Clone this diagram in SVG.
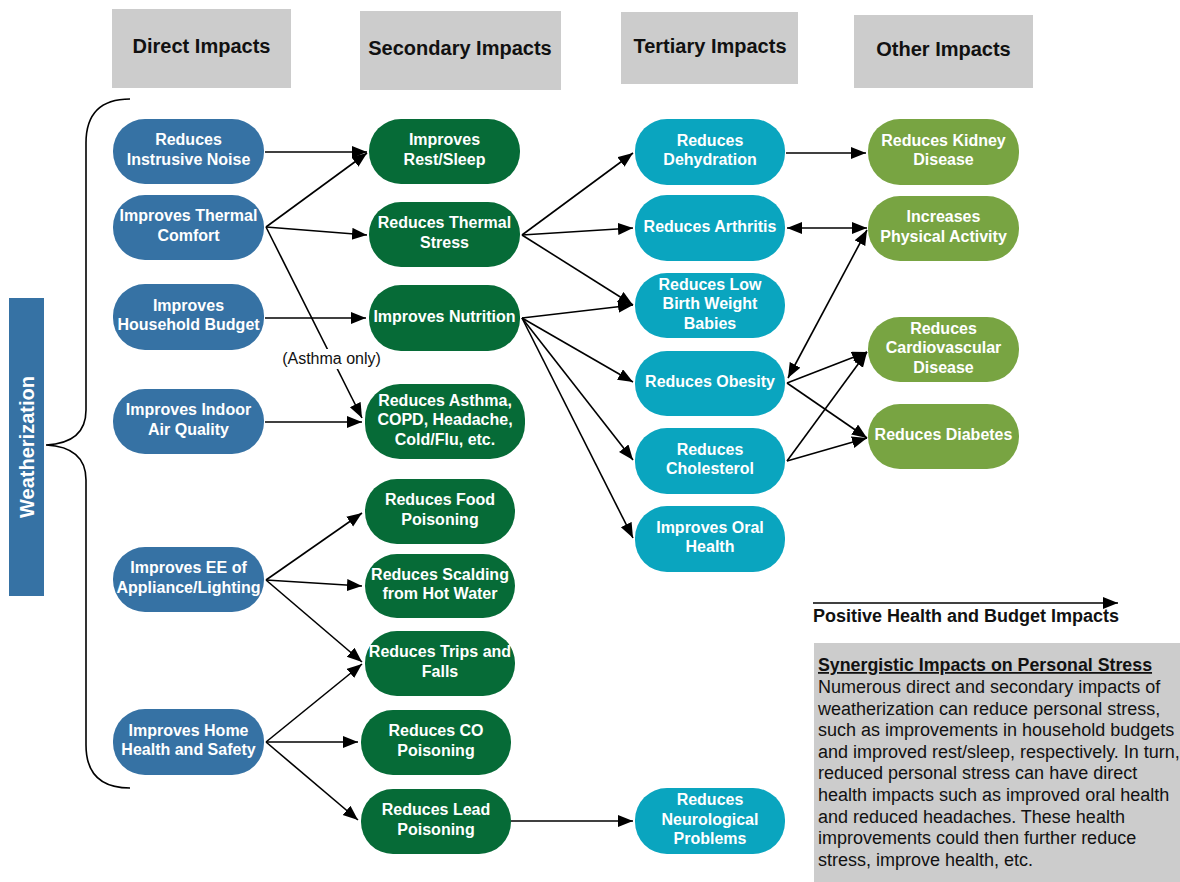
<svg xmlns="http://www.w3.org/2000/svg" width="1180" height="882" viewBox="0 0 1180 882">
<defs>
<marker id="ah" markerUnits="userSpaceOnUse" markerWidth="16" markerHeight="13" refX="15" refY="6" orient="auto-start-reverse">
<path d="M0,0 L15,6 L0,12 z" fill="#000"/>
</marker>
<style>
.hdr{fill:#cccccc}
.ht{font-family:"Liberation Sans",Arial,sans-serif;font-weight:bold;font-size:20px;fill:#111;text-anchor:middle}
.nt{font-family:"Liberation Sans",Arial,sans-serif;font-weight:bold;font-size:16px;fill:#fff;text-anchor:middle}
.blue{fill:#3672a4}
.green{fill:#066b37}
.teal{fill:#0aa5bf}
.olive{fill:#78a442}
.cn{stroke:#000;stroke-width:1.6;fill:none;marker-end:url(#ah)}
.cn2{stroke:#000;stroke-width:1.6;fill:none;marker-end:url(#ah);marker-start:url(#ah)}
.lbl{font-family:"Liberation Sans",Arial,sans-serif;font-size:16px;fill:#111;text-anchor:middle}
.body{font-family:"Liberation Sans",Arial,sans-serif;font-size:18px;fill:#111}
</style>
</defs>
<rect width="1180" height="882" fill="#fff"/>

<g id="headers">
<rect class="hdr" x="112" y="9" width="179" height="79"/>
<text class="ht" x="201.5" y="53">Direct Impacts</text>
<rect class="hdr" x="360" y="11" width="201" height="79"/>
<text class="ht" x="460" y="55">Secondary Impacts</text>
<rect class="hdr" x="621" y="12" width="177" height="72"/>
<text class="ht" x="710" y="53">Tertiary Impacts</text>
<rect class="hdr" x="854" y="15" width="179" height="73"/>
<text class="ht" x="943.5" y="56">Other Impacts</text>
</g>

<g id="weatherization">
<rect x="9" y="298" width="35" height="298" fill="#3672a4"/>
<text transform="translate(33.5,447) rotate(-90)" x="0" y="0" text-anchor="middle" font-family="Liberation Sans, Arial, sans-serif" font-weight="bold" font-size="20" fill="#fff">Weatherization</text>
</g>

<g id="brace">
<path d="M130,99 Q86,99 86,143 L86,410 Q86,443 46,445 Q86,447 86,480 L86,745 Q86,788 130,788" fill="none" stroke="#000" stroke-width="1.6"/>
</g>

<g id="connectors">
<line class="cn" x1="265" y1="152" x2="367" y2="152"/>
<line class="cn" x1="266" y1="227" x2="367" y2="153"/>
<line class="cn" x1="266" y1="227" x2="367" y2="235"/>
<line class="cn" x1="266" y1="227" x2="362" y2="418"/>
<line class="cn" x1="265" y1="318" x2="366" y2="318"/>
<line class="cn" x1="265" y1="422" x2="362" y2="422"/>
<line class="cn" x1="266" y1="580" x2="362" y2="513"/>
<line class="cn" x1="266" y1="580" x2="362" y2="586"/>
<line class="cn" x1="266" y1="580" x2="362" y2="662"/>
<line class="cn" x1="266" y1="742" x2="362" y2="664"/>
<line class="cn" x1="266" y1="742" x2="358" y2="742"/>
<line class="cn" x1="266" y1="742" x2="358" y2="820"/>
<line class="cn" x1="511" y1="821" x2="633" y2="821"/>
<line class="cn" x1="522" y1="235" x2="633" y2="153"/>
<line class="cn" x1="522" y1="235" x2="633" y2="228"/>
<line class="cn" x1="522" y1="235" x2="633" y2="305"/>
<line class="cn" x1="522" y1="318" x2="633" y2="305"/>
<line class="cn" x1="522" y1="318" x2="633" y2="382"/>
<line class="cn" x1="522" y1="318" x2="633" y2="460"/>
<line class="cn" x1="522" y1="318" x2="633" y2="538"/>
<line class="cn" x1="786" y1="153" x2="866" y2="153"/>
<line class="cn2" x1="787" y1="228" x2="867" y2="228"/>
<line class="cn2" x1="788" y1="378" x2="867" y2="230"/>
<line class="cn" x1="787" y1="383" x2="867" y2="352"/>
<line class="cn" x1="787" y1="383" x2="867" y2="438"/>
<line class="cn" x1="787" y1="461" x2="867" y2="352"/>
<line class="cn" x1="787" y1="461" x2="867" y2="438"/>
<rect x="281" y="349" width="101" height="20" fill="#fff"/>
<text class="lbl" x="331.5" y="364">(Asthma only)</text>
</g>

<g id="n-noise"><rect class="blue" x="113" y="119" width="151" height="65" rx="32"/><text class="nt" x="188.5" y="145">Reduces</text><text class="nt" x="188.5" y="164.5">Instrusive Noise</text></g>
<g id="n-thermal-comfort"><rect class="blue" x="113" y="195" width="151" height="65" rx="32"/><text class="nt" x="188.5" y="221">Improves Thermal</text><text class="nt" x="188.5" y="240.5">Comfort</text></g>
<g id="n-budget"><rect class="blue" x="113" y="284" width="151" height="66" rx="32"/><text class="nt" x="188.5" y="310.5">Improves</text><text class="nt" x="188.5" y="330">Household Budget</text></g>
<g id="n-air"><rect class="blue" x="113" y="389" width="151" height="65" rx="32"/><text class="nt" x="188.5" y="415">Improves Indoor</text><text class="nt" x="188.5" y="434.5">Air Quality</text></g>
<g id="n-ee"><rect class="blue" x="113" y="547" width="151" height="65" rx="32"/><text class="nt" x="188.5" y="573">Improves EE of</text><text class="nt" x="188.5" y="592.5">Appliance/Lighting</text></g>
<g id="n-home"><rect class="blue" x="113" y="709" width="151" height="66" rx="32"/><text class="nt" x="188.5" y="735.5">Improves Home</text><text class="nt" x="188.5" y="755">Health and Safety</text></g>

<g id="n-rest"><rect class="green" x="369" y="119" width="151" height="65" rx="32"/><text class="nt" x="444.5" y="145">Improves</text><text class="nt" x="444.5" y="164.5">Rest/Sleep</text></g>
<g id="n-thermal-stress"><rect class="green" x="369" y="202" width="151" height="65" rx="32"/><text class="nt" x="444.5" y="228">Reduces Thermal</text><text class="nt" x="444.5" y="247.5">Stress</text></g>
<g id="n-nutrition"><rect class="green" x="369" y="285" width="151" height="66" rx="32"/><text class="nt" x="444.5" y="321.5">Improves Nutrition</text></g>
<g id="n-asthma"><rect class="green" x="365" y="384" width="160" height="75" rx="35"/><text class="nt" x="445" y="405.5">Reduces Asthma,</text><text class="nt" x="445" y="425">COPD, Headache,</text><text class="nt" x="445" y="444.5">Cold/Flu, etc.</text></g>
<g id="n-food"><rect class="green" x="365" y="479" width="150" height="65" rx="32"/><text class="nt" x="440" y="505">Reduces Food</text><text class="nt" x="440" y="524.5">Poisoning</text></g>
<g id="n-scalding"><rect class="green" x="365" y="554" width="150" height="64" rx="32"/><text class="nt" x="440" y="579.5">Reduces Scalding</text><text class="nt" x="440" y="599">from Hot Water</text></g>
<g id="n-trips"><rect class="green" x="365" y="631" width="150" height="65" rx="32"/><text class="nt" x="440" y="657">Reduces Trips and</text><text class="nt" x="440" y="676.5">Falls</text></g>
<g id="n-co"><rect class="green" x="361" y="710" width="150" height="65" rx="32"/><text class="nt" x="436" y="736">Reduces CO</text><text class="nt" x="436" y="755.5">Poisoning</text></g>
<g id="n-lead"><rect class="green" x="361" y="789" width="150" height="65" rx="32"/><text class="nt" x="436" y="815">Reduces Lead</text><text class="nt" x="436" y="834.5">Poisoning</text></g>

<g id="n-dehydration"><rect class="teal" x="635" y="119" width="150" height="66" rx="32"/><text class="nt" x="710" y="145.5">Reduces</text><text class="nt" x="710" y="165">Dehydration</text></g>
<g id="n-arthritis"><rect class="teal" x="635" y="195" width="150" height="66" rx="32"/><text class="nt" x="710" y="231.5">Reduces Arthritis</text></g>
<g id="n-lbw"><rect class="teal" x="635" y="273" width="150" height="65" rx="32"/><text class="nt" x="710" y="289.5">Reduces Low</text><text class="nt" x="710" y="309">Birth Weight</text><text class="nt" x="710" y="328.5">Babies</text></g>
<g id="n-obesity"><rect class="teal" x="635" y="351" width="150" height="65" rx="32"/><text class="nt" x="710" y="387">Reduces Obesity</text></g>
<g id="n-cholesterol"><rect class="teal" x="635" y="428" width="150" height="66" rx="32"/><text class="nt" x="710" y="454.5">Reduces</text><text class="nt" x="710" y="474">Cholesterol</text></g>
<g id="n-oral"><rect class="teal" x="635" y="506" width="150" height="66" rx="32"/><text class="nt" x="710" y="532.5">Improves Oral</text><text class="nt" x="710" y="552">Health</text></g>
<g id="n-neuro"><rect class="teal" x="635" y="788" width="150" height="66" rx="32"/><text class="nt" x="710" y="805">Reduces</text><text class="nt" x="710" y="824.5">Neurological</text><text class="nt" x="710" y="844">Problems</text></g>

<g id="n-kidney"><rect class="olive" x="868" y="119" width="151" height="66" rx="32"/><text class="nt" x="943.5" y="145.5">Reduces Kidney</text><text class="nt" x="943.5" y="165">Disease</text></g>
<g id="n-physical"><rect class="olive" x="868" y="196" width="151" height="65" rx="32"/><text class="nt" x="943.5" y="222">Increases</text><text class="nt" x="943.5" y="241.5">Physical Activity</text></g>
<g id="n-cardio"><rect class="olive" x="868" y="317" width="151" height="65" rx="32"/><text class="nt" x="943.5" y="333.5">Reduces</text><text class="nt" x="943.5" y="353">Cardiovascular</text><text class="nt" x="943.5" y="372.5">Disease</text></g>
<g id="n-diabetes"><rect class="olive" x="868" y="404" width="151" height="65" rx="32"/><text class="nt" x="943.5" y="440">Reduces Diabetes</text></g>

<g id="legend">
<line class="cn" x1="813" y1="603" x2="1118" y2="603"/>
<text x="813" y="622" font-family="Liberation Sans, Arial, sans-serif" font-weight="bold" font-size="18" fill="#111">Positive Health and Budget Impacts</text>
</g>

<g id="stress-note">
<rect x="814" y="643" width="366" height="239" fill="#cccccc"/>
<text x="818" y="671" font-family="Liberation Sans, Arial, sans-serif" font-weight="bold" font-size="17.8" fill="#111" text-decoration="underline">Synergistic Impacts on Personal Stress</text>
<text class="body" font-size="17.8">
<tspan x="818" y="693">Numerous direct and secondary impacts of</tspan>
<tspan x="818" y="714.6">weatherization can reduce personal stress,</tspan>
<tspan x="818" y="736.2">such as improvements in household budgets</tspan>
<tspan x="818" y="757.8">and improved rest/sleep, respectively. In turn,</tspan>
<tspan x="818" y="779.4">reduced personal stress can have direct</tspan>
<tspan x="818" y="801">health impacts such as improved oral health</tspan>
<tspan x="818" y="822.6">and reduced headaches. These health</tspan>
<tspan x="818" y="844.2">improvements could then further reduce</tspan>
<tspan x="818" y="865.8">stress, improve health, etc.</tspan>
</text>
</g>
</svg>
